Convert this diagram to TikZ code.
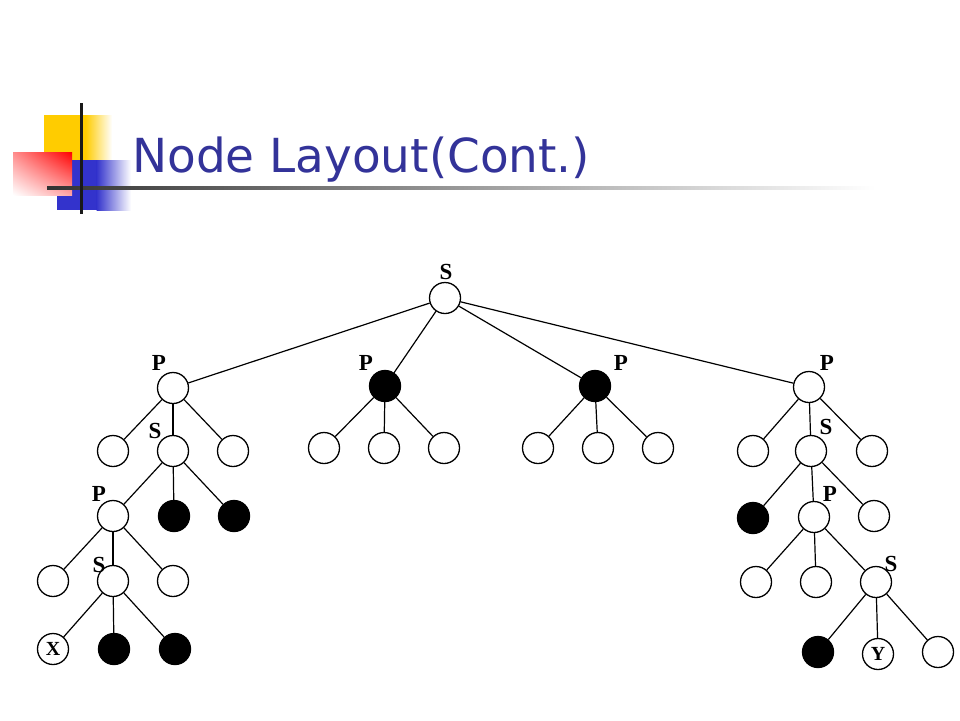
\documentclass[tikz,border=0pt]{standalone}
\usepackage{fontspec}
\usetikzlibrary{shadings}
\newfontfamily\titlefont{DejaVu Sans}
\newfontfamily\labfont{Liberation Serif}
\begin{document}
\begin{tikzpicture}[x=1pt,y=-1pt,
  vtx/.style={circle,draw=black,line width=1.3pt,minimum size=31pt,inner sep=0pt,fill=white},
  blk/.style={vtx,fill=black},
  lab/.style={font=\labfont\fontsize{23}{23}\selectfont\bfseries,inner sep=0pt},
  inlab/.style={vtx,font=\labfont\fontsize{20}{20}\selectfont\bfseries},
  edge/.style={line width=1.2pt}]
\useasboundingbox (0,0) rectangle (960,720);
\fill[white] (0,0) rectangle (960,720);
% logo
\definecolor{logoyellow}{HTML}{FFCC00}
\definecolor{logoblue}{HTML}{3333CC}
\definecolor{titleblue}{HTML}{333399}
\fill[logoyellow] (44,115) rectangle (86,160);
\shade[left color=logoyellow,right color=white] (85.5,115) rectangle (112,160);
\fill[logoblue] (57,160) rectangle (97,210);
\shade[left color=logoblue,right color=white] (96.5,160) rectangle (131,210);
\shade[upper right=red,upper left=red!45,lower right=red!35,lower left=white] (13,152) rectangle (72,195);
\shade[left color=black!80,right color=white] (47,186.5) rectangle (875,189.5);
\draw[line width=3pt,black!90] (81,103) -- (81,214);
% title
\node[anchor=base west,inner sep=0pt,text=titleblue] (title) at (132,172)
  {\resizebox{458pt}{!}{\titlefont\fontsize{51}{51}\selectfont Node Layout(Cont.)}};
% tree nodes
\node[vtx] (r) at (445,298) {};
\node[vtx] (a) at (173,388) {};
\node[blk] (b) at (385,386) {};
\node[blk] (c) at (595,386) {};
\node[vtx] (d) at (809,387) {};
\node[vtx] (a1) at (113,451) {};
\node[vtx] (a2) at (173,451) {};
\node[vtx] (a3) at (233,451) {};
\node[vtx] (b1) at (324,448) {};
\node[vtx] (b2) at (384,448) {};
\node[vtx] (b3) at (444,448) {};
\node[vtx] (c1) at (538,448) {};
\node[vtx] (c2) at (598,448) {};
\node[vtx] (c3) at (658,448) {};
\node[vtx] (d1) at (753,451) {};
\node[vtx] (d2) at (811,451) {};
\node[vtx] (d3) at (872,451) {};
\node[vtx] (e1) at (113,516) {};
\node[blk] (e2) at (174,516) {};
\node[blk] (e3) at (234,516) {};
\node[vtx] (f1) at (53,581) {};
\node[vtx] (f2) at (113,581) {};
\node[vtx] (f3) at (173,581) {};
\node[inlab] (g1) at (53,649) {X};
\node[blk] (g2) at (114,649) {};
\node[blk] (g3) at (175,649) {};
\node[blk] (h1) at (753,518) {};
\node[vtx] (h2) at (814,517) {};
\node[vtx] (h3) at (874,516) {};
\node[vtx] (i1) at (756,582) {};
\node[vtx] (i2) at (816,582) {};
\node[vtx] (i3) at (876,582) {};
\node[blk] (j1) at (818,652) {};
\node[inlab] (j2) at (878,654) {Y};
\node[vtx] (j3) at (938,652) {};
% labels
\node[lab] (lr) at (446,272) {S};
\node[lab] (la) at (159,363) {P};
\node[lab] (lb) at (366,363) {P};
\node[lab] (lc) at (621,363) {P};
\node[lab] (ld) at (827,363) {P};
\node[lab] (la2) at (155,431) {S};
\node[lab] (ld2) at (826,427) {S};
\node[lab] (le1) at (99,494) {P};
\node[lab] (lf2) at (99,565) {S};
\node[lab] (lh2) at (830,494) {P};
\node[lab] (li3) at (891,564) {S};
% edges
\foreach \p/\q in {r/a,r/b,r/c,r/d,a/a1,a/a2,a/a3,b/b1,b/b2,b/b3,c/c1,c/c2,c/c3,
  d/d1,d/d2,d/d3,a2/e1,a2/e2,a2/e3,e1/f1,e1/f2,e1/f3,f2/g1,f2/g2,f2/g3,
  d2/h1,d2/h2,d2/h3,h2/i1,h2/i2,h2/i3,i3/j1,i3/j2,i3/j3}
  \draw[edge] (\p) -- (\q);
\end{tikzpicture}
\end{document}
